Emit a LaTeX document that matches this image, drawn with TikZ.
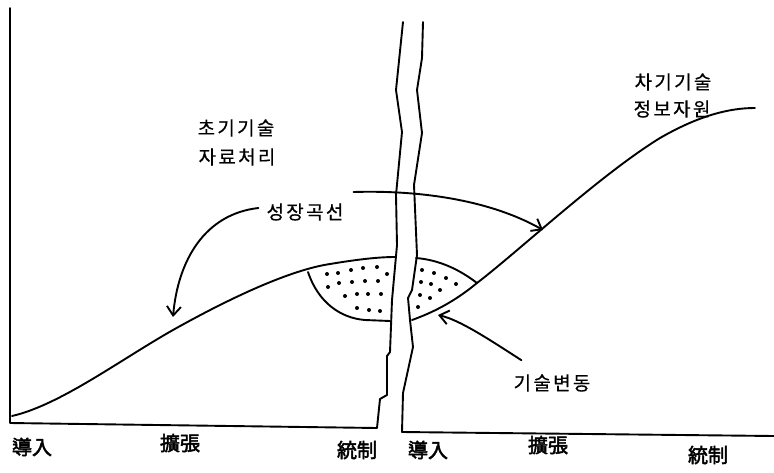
\documentclass[tikz,border=0pt]{standalone}
\usepackage{fontspec}
\newfontfamily\kr{Noto Sans CJK KR}[LetterSpace=12,FakeBold=0.6]
\newfontfamily\krh{Noto Sans CJK KR}[FakeBold=2.5]
\usetikzlibrary{arrows.meta}
\tikzset{
  ln/.style={line width=1.9pt, line join=round, line cap=round},
  lbl/.style={font=\kr\fontsize{19}{21}\selectfont, inner sep=0pt},
  stage/.style={font=\krh\fontsize{20}{22}\selectfont, inner sep=0pt},
  barb/.style={-{Straight Barb[length=9pt,width=14pt,line width=1.9pt]}},
  dot/.style={fill=black}
}
\begin{document}
\begin{tikzpicture}[x=1pt,y=-1pt]
\useasboundingbox (0,0) rectangle (774,472);
% left frame with broken edge
\draw[ln] (403,22) -- (396,90) -- (402,132) -- (396,195) -- (397,245) -- (392,300) -- (390,352) -- (387,356) -- (387,395) -- (380,399) -- (377,428) -- (10,423) -- (10,8);
% right frame with broken edge
\draw[ln] (423,22) -- (422,58) -- (417,90) -- (422,133) -- (414,185) -- (417,255) -- (412,290) -- (408,298) -- (410,320) -- (413,347) -- (408,370) -- (403,393) -- (402,432) -- (774,436);
% growth curves
\coordinate (l0) at (12,416);
\coordinate (lend) at (395,257);
\draw[ln] (l0) .. controls (60,405) and (120,360) .. (173,330) .. controls (230,298) and (290,270) .. (330,264) .. controls (360,259) and (380,257) .. (lend);
\coordinate (r0) at (412,320);
\coordinate (rend) at (755,108);
\draw[ln] (r0) .. controls (440,310) and (460,297) .. (477,283) .. controls (520,250) and (600,175) .. (660,138) .. controls (700,115) and (730,108) .. (rend);
% shaded (dotted) regions
\draw[ln] (308,272) .. controls (318,302) and (340,318) .. (365,320) -- (390,321);
\draw[ln] (416,258) .. controls (440,260) and (460,270) .. (477,283);
\foreach \p in {(327,274),(338,273),(351,270),(363,268),(377,267),(387,274),
  (328,287),(339,283),(352,282),(365,281),(378,281),
  (345,296),(357,294),(368,294),(381,294),
  (357,308),(369,310),(380,311),
  (422,270),(434,273),(446,278),(456,284),
  (421,282),(431,284),(440,290),
  (420,295),(430,298),(418,307)}
  \fill[dot] \p circle (2pt);
% labels
\node[lbl] (early1) at (236,128) {초기기술};
\node[lbl] (early2) at (237,157) {자료처리};
\node[lbl] (next1) at (673,82) {차기기술};
\node[lbl] (next2) at (672,109) {정보자원};
\node[lbl] (growth) at (305,212) {성장곡선};
\node[lbl] (change) at (552,383) {기술변동};
% arrows
\coordinate (ga) at (173,317);
\coordinate (gb) at (543,230);
\coordinate (cb) at (438,315);
\draw[ln,barb] (growth.west) ++(-8,-4) .. controls (205,214) and (178,260) .. (ga);
\draw[ln,barb] (growth.east) ++(10,-20) .. controls (420,190) and (490,200) .. (gb);
\draw[ln,barb] (change.north west) ++(8,-14) .. controls (490,340) and (460,320) .. (cb);
% stage labels
\node[stage] (s1) at (32,447) {導入};
\node[stage] (s2) at (180,443) {擴張};
\node[stage] (s3) at (357,450) {統制};
\node[stage] (s4) at (428,450) {導入};
\node[stage] (s5) at (548,445) {擴張};
\node[stage] (s6) at (708,455) {統制};
\end{tikzpicture}
\end{document}
